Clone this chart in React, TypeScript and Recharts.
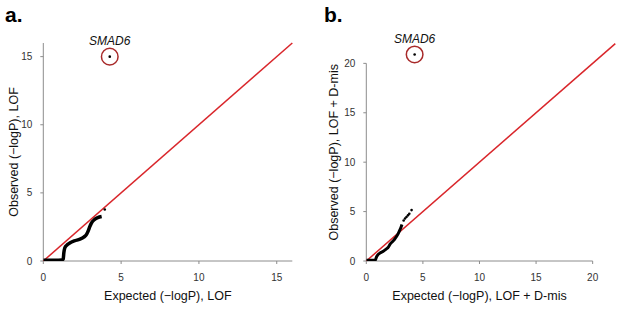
import React from 'react';
import {
  ComposedChart,
  Line,
  Scatter,
  XAxis,
  YAxis,
  ReferenceLine,
  ReferenceDot,
} from 'recharts';

// QQ data: expected vs observed -logP
const lofCurve = [
  { x: 0, y: 0.05 }, { x: 0.3, y: 0.05 }, { x: 0.6, y: 0.05 }, { x: 0.9, y: 0.06 },
  { x: 1.2, y: 0.08 }, { x: 1.28, y: 0.15 }, { x: 1.32, y: 0.6 }, { x: 1.38, y: 0.95 },
  { x: 1.5, y: 1.15 }, { x: 1.7, y: 1.32 }, { x: 2.0, y: 1.48 }, { x: 2.35, y: 1.6 },
  { x: 2.6, y: 1.75 }, { x: 2.78, y: 1.96 }, { x: 2.9, y: 2.25 }, { x: 2.98, y: 2.5 },
  { x: 3.1, y: 2.8 }, { x: 3.3, y: 3.05 }, { x: 3.5, y: 3.18 }, { x: 3.75, y: 3.26 },
];
const lofPoints = [{ x: 3.95, y: 3.78 }];
const lofHit = { x: 4.27, y: 15.0 };

const dmisCurve = [
  { x: 0, y: 0.08 }, { x: 0.4, y: 0.08 }, { x: 0.8, y: 0.1 }, { x: 0.88, y: 0.35 },
  { x: 1.0, y: 0.6 }, { x: 1.2, y: 0.8 }, { x: 1.5, y: 0.98 }, { x: 1.75, y: 1.2 },
  { x: 1.95, y: 1.4 }, { x: 2.1, y: 1.7 }, { x: 2.3, y: 1.95 }, { x: 2.5, y: 2.2 },
  { x: 2.65, y: 2.45 }, { x: 2.83, y: 2.8 }, { x: 2.95, y: 3.1 }, { x: 3.06, y: 3.4 },
  { x: 3.15, y: 3.7 },
];
const dmisPoints = [
  { x: 3.3, y: 4.1 }, { x: 3.42, y: 4.3 }, { x: 3.55, y: 4.45 },
  { x: 3.68, y: 4.62 }, { x: 3.8, y: 4.78 }, { x: 4.0, y: 5.15 },
];
const dmisHit = { x: 4.27, y: 20.9 };

const lofTicks = [0, 5, 10, 15];
const dmisTicks = [0, 5, 10, 15, 20];

const FONT = '"Liberation Sans", Arial, Helvetica, sans-serif';
const AXIS = '#8c8c8c';
const RED = '#d9262b';
const CIRCLE = '#a82a2a';

const dot = (p: any) => <circle cx={p.cx} cy={p.cy} r={1.3} fill="#000" />;

interface PanelProps {
  tag: string;
  left: number;
  curve: { x: number; y: number }[];
  points: { x: number; y: number }[];
  hit: { x: number; y: number };
  ticks: number[];
  axisEnd: number;
  domainMax: number;
  xLabel: string;
  yLabel: string;
  yAxisWidth: number;
  margin: { top: number; right: number };
  yLabelDx: number;
  xLabelDx: number;
  stroke: number;
}

function Panel(p: PanelProps) {
  return (
    <div style={{ position: 'absolute', left: p.left, top: 0, width: 310, height: 314 }}>
      <div
        style={{
          position: 'absolute',
          left: p.tag === 'a.' ? 5 : 17,
          top: 3,
          fontFamily: FONT,
          fontWeight: 'bold',
          fontSize: 21,
          color: '#000',
        }}
      >
        {p.tag}
      </div>
      <ComposedChart
        width={310}
        height={314}
        margin={{ top: p.margin.top, right: p.margin.right, bottom: 0, left: 0 }}
        style={{ fontFamily: FONT }}
      >
        <XAxis
          type="number"
          dataKey="x"
          domain={[0, p.domainMax]}
          ticks={p.ticks}
          height={53}
          axisLine={false}
          tickLine={{ stroke: AXIS }}
          tickSize={3}
          tickMargin={10}
          tick={{ fontSize: 10, fill: '#333' }}
          allowDataOverflow
          label={{
            value: p.xLabel,
            position: 'center',
            dx: p.xLabelDx,
            dy: 8,
            fontSize: 12.5,
            fill: '#111',
          }}
        />
        <YAxis
          type="number"
          dataKey="y"
          domain={[0, p.domainMax]}
          ticks={p.ticks}
          width={p.yAxisWidth}
          axisLine={false}
          tickLine={{ stroke: AXIS }}
          tickSize={3}
          tickMargin={8}
          tick={{ fontSize: 10, fill: '#333' }}
          allowDataOverflow
          label={{
            value: p.yLabel,
            position: 'center',
            angle: -90,
            dx: p.yLabelDx,
            fontSize: 12.5,
            fill: '#111',
          }}
        />
        <ReferenceLine segment={[{ x: 0, y: 0 }, { x: p.axisEnd, y: 0 }]} stroke={AXIS} strokeWidth={1} />
        <ReferenceLine segment={[{ x: 0, y: 0 }, { x: 0, y: p.axisEnd }]} stroke={AXIS} strokeWidth={1} />
        <ReferenceLine
          segment={[{ x: 0, y: 0 }, { x: p.domainMax, y: p.domainMax }]}
          stroke={RED}
          strokeWidth={1.5}
        />
        <Line
          data={p.curve}
          dataKey="y"
          type="monotone"
          stroke="#000"
          strokeWidth={p.stroke}
          dot={false}
          isAnimationActive={false}
        />
        <Scatter data={[...p.points, p.hit]} dataKey="y" shape={dot} isAnimationActive={false} />
        <ReferenceDot
          x={p.hit.x}
          y={p.hit.y}
          r={8.3}
          fill="none"
          stroke={CIRCLE}
          strokeWidth={1.5}
          label={{
            value: 'SMAD6',
            position: 'top',
            offset: 3,
            fontSize: 12,
            fontStyle: 'italic',
            fill: '#111',
          }}
        />
      </ComposedChart>
    </div>
  );
}

export default function App() {
  return (
    <div style={{ position: 'absolute', left: 0, top: 0, width: 617, height: 314, background: '#fff' }}>
      <Panel
        tag="a."
        left={0}
        curve={lofCurve}
        points={lofPoints}
        hit={lofHit}
        ticks={lofTicks}
        axisEnd={16}
        domainMax={16}
        xLabel="Expected (−logP), LOF"
        yLabel="Observed (−logP), LOF"
        yAxisWidth={43.3}
        margin={{ top: 43, right: 17.7 }}
        yLabelDx={-8.3}
        xLabelDx={0}
        stroke={3.5}
      />
      <Panel
        tag="b."
        left={307}
        curve={dmisCurve}
        points={dmisPoints}
        hit={dmisHit}
        ticks={dmisTicks}
        axisEnd={20}
        domainMax={22}
        xLabel="Expected (−logP), LOF + D-mis"
        yLabel="Observed (−logP), LOF + D-mis"
        yAxisWidth={59.3}
        margin={{ top: 43.6, right: 1.7 }}
        yLabelDx={-3}
        xLabelDx={-11.3}
        stroke={3}
      />
    </div>
  );
}
